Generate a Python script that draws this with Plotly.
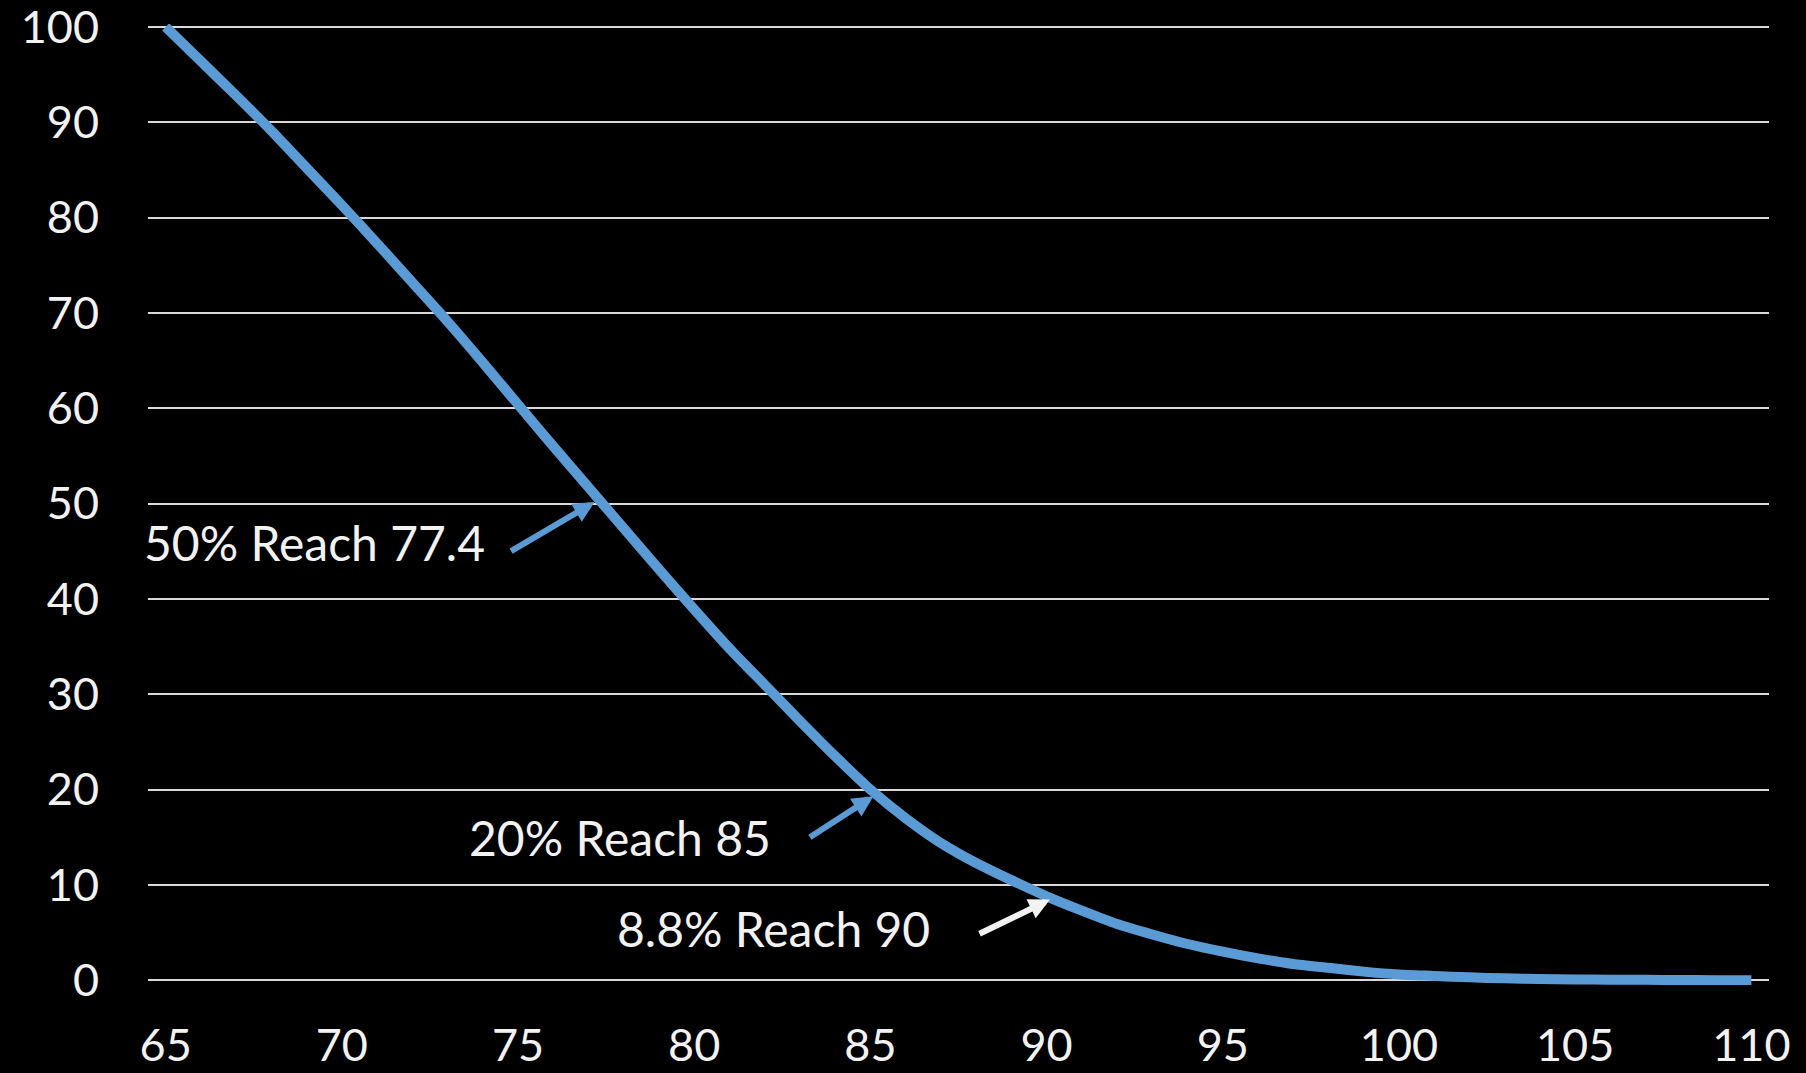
import plotly.graph_objects as go

# Share of the starting group still reaching each age (%)
ages = list(range(65, 111))
reach_pct = [
    100.0, 96.4, 92.8, 89.1, 85.2, 81.3, 77.3, 73.2, 69.1, 64.8,
    60.4, 56.0, 51.7, 47.4, 43.1, 38.9, 34.8, 31.0, 27.2, 23.5,
    20.0, 17.0, 14.4, 12.3, 10.5, 8.8, 7.3, 5.9, 4.8, 3.8,
    3.0, 2.3, 1.7, 1.3, 0.9, 0.6, 0.45, 0.3, 0.2, 0.13,
    0.09, 0.06, 0.04, 0.02, 0.01, 0.01,
]

x_ticks = list(range(65, 111, 5))
y_ticks = list(range(0, 101, 10))

# Callouts: (age, percent, label)
callout_age = [77.4, 85, 90]
callout_pct = [50, 20, 8.8]
callout_text = ["50% Reach 77.4", "20% Reach 85", "8.8% Reach 90"]

LINE_BLUE = "#5B9BD5"
TEXT_COLOR = "#F2F2F2"
GRID_COLOR = "#D9D9D9"
FONT = "Lato, 'Open Sans', sans-serif"

# Per-callout styling: arrow colour, arrow tail offset (px), tip shift, label shift
arrow_colors = [LINE_BLUE, LINE_BLUE, "#F2F2F2"]
arrow_tail = [(-85, 50), (-65, 42), (-72, 35)]
arrow_shift = [(-8, 1.5), (3, -6.6), (3.4, -3.2)]
label_shift = [(-115.6, -38.5), (-97.4, -48.1), (-114.6, -31.9)]

fig = go.Figure()
fig.add_trace(go.Scatter(
    x=ages, y=reach_pct, mode="lines",
    line=dict(color=LINE_BLUE, width=10, shape="spline", smoothing=0.6),
    hoverinfo="x+y", showlegend=False,
))

annotations = []
for i in range(len(callout_text)):
    ax, ay = arrow_tail[i]
    xs, ys = arrow_shift[i]
    annotations.append(dict(
        x=callout_age[i], y=callout_pct[i], xref="x", yref="y",
        text="", showarrow=True, ax=ax, ay=ay,
        xshift=xs, yshift=ys,
        arrowhead=2, arrowsize=0.7, arrowwidth=6,
        arrowcolor=arrow_colors[i],
    ))
    lxs, lys = label_shift[i]
    annotations.append(dict(
        x=callout_age[i], y=callout_pct[i], xref="x", yref="y",
        text=callout_text[i], showarrow=False,
        xanchor="right", yanchor="middle",
        xshift=lxs, yshift=lys,
        font=dict(family=FONT, size=48, color=TEXT_COLOR),
    ))

fig.update_layout(
    width=1806, height=1073,
    paper_bgcolor="#000000", plot_bgcolor="#000000",
    margin=dict(l=148, r=37, t=24, b=88),
    font=dict(family=FONT, size=45, color=TEXT_COLOR),
    annotations=annotations,
    xaxis=dict(
        range=[64.5, 110.5], tickvals=x_ticks,
        ticktext=[str(v) for v in x_ticks],
        showgrid=False, zeroline=False, showline=False,
        ticks="", ticklabelstandoff=30, automargin=False,
        ticklabeloverflow="allow",
        tickfont=dict(family=FONT, size=45, color=TEXT_COLOR),
    ),
    yaxis=dict(
        range=[-0.5, 100.3], tickvals=y_ticks,
        ticktext=[str(v) for v in y_ticks],
        showgrid=True, gridcolor=GRID_COLOR, gridwidth=1.5,
        zeroline=False, showline=False,
        ticks="", ticklabelstandoff=48, automargin=False,
        ticklabeloverflow="allow",
        tickfont=dict(family=FONT, size=45, color=TEXT_COLOR),
    ),
)

fig.write_html("out.html")
